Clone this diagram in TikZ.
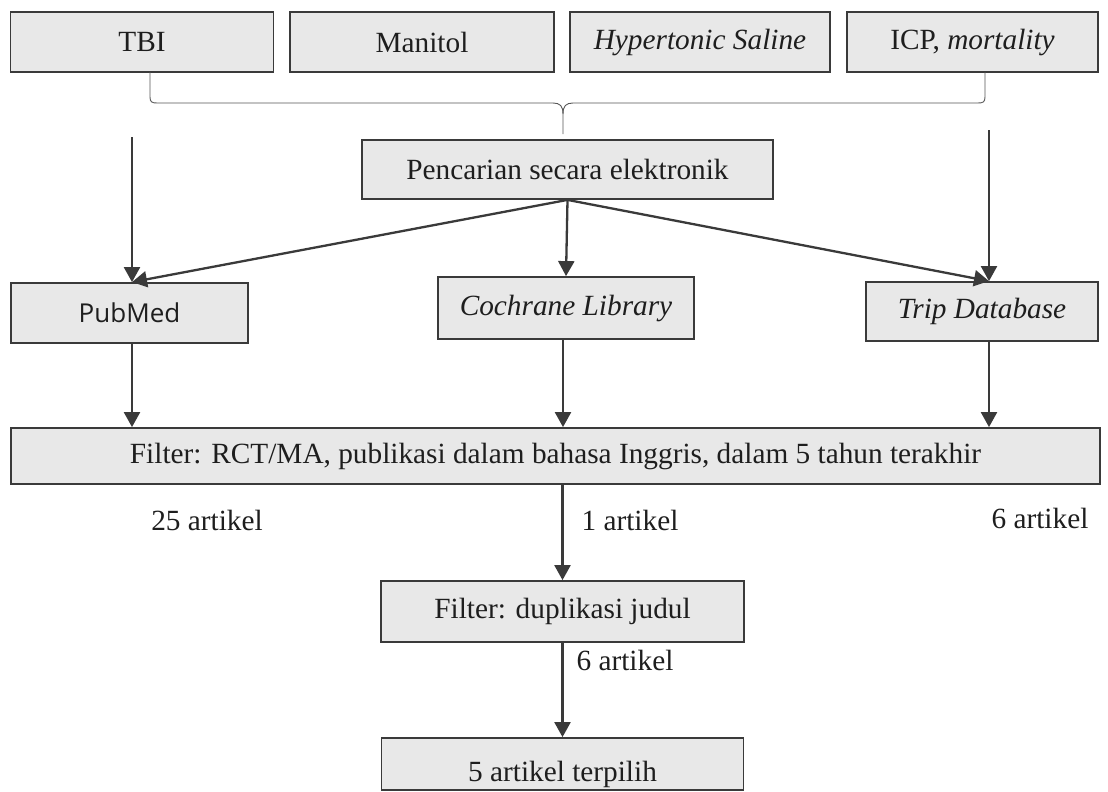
\documentclass[tikz,border=0pt]{standalone}
\usepackage{fontspec}
\setmainfont{Liberation Serif}
\newfontfamily\pubfont{Open Sans}
\usetikzlibrary{arrows.meta}
\definecolor{boxfill}{HTML}{E8E8E8}
\definecolor{boxline}{HTML}{3A3A3A}
\definecolor{txt}{HTML}{1E1E1E}
\definecolor{bracecol}{HTML}{555555}
\begin{document}
\begin{tikzpicture}[x=1pt,y=-1pt,
  box/.style={draw=boxline, fill=boxfill, line width=1.8pt, inner sep=0pt, text=txt, font=\fontsize{29.3}{34}\selectfont},
  arr/.style={draw=boxline, line width=2.3pt, -{Triangle[length=15pt,width=16pt]}},
  bracepath/.style={draw=bracecol, line width=0.9pt},
  lbl/.style={text=txt, font=\fontsize{29.3}{34}\selectfont, inner sep=0pt}]
\useasboundingbox (0,0) rectangle (1108,792);
% top row
\node[box, minimum width=263pt, minimum height=60pt] (tbi) at (142,42) {TBI};
\node[box, minimum width=264pt, minimum height=60pt] (man) at (422,42) {Manitol};
\node[box, minimum width=260pt, minimum height=60pt] (hs) at (700,42) {\textit{Hypertonic Saline}};
\node[box, minimum width=251pt, minimum height=60pt] (icp) at (972.5,42) {ICP, \textit{mortality}};
% search
\node[box, minimum width=411pt, minimum height=59pt] (pen) at (567.5,169.5) {Pencarian secara elektronik};
% databases
\node[box, minimum width=237pt, minimum height=60pt, font=\pubfont\fontsize{26}{30}\selectfont] (pub) at (129.5,313) {PubMed};
\node[box, minimum width=256pt, minimum height=62pt] (coch) at (566,308) {\textit{Cochrane Library}};
\node[box, minimum width=232pt, minimum height=59pt] (trip) at (982,311.5) {\textit{Trip Database}};
% filters
\node[box, minimum width=1089pt, minimum height=56pt] (filt) at (555.5,456) {Filter: RCT/MA, publikasi dalam bahasa Inggris, dalam 5 tahun terakhir};
\node[box, minimum width=363pt, minimum height=61pt] (dup) at (562.5,611.5) {Filter: duplikasi judul};
\node[box, minimum width=362pt, minimum height=52pt, text height=34pt, text depth=0pt] (fin) at (562.5,764) {5 artikel terpilih};
% labels
\node[lbl] (l25) at (207,520) {25 artikel};
\node[lbl] (l1) at (630,520) {1 artikel};
\node[lbl] (l6a) at (1040,518) {6 artikel};
\node[lbl] (l6b) at (625,660) {6 artikel};
% brace
\draw[bracepath] (150,72) -- (150,97) .. controls (150,102) and (152,103) .. (157,103) -- (553,103) .. controls (560,103) and (563,106) .. (563,114) -- (563,134);
\draw[bracepath] (985,72) -- (985,97) .. controls (985,102) and (983,103) .. (978,103) -- (573,103) .. controls (566,103) and (563,106) .. (563,114);
% connectors
\coordinate (vl) at (132,137);
\coordinate (vr) at (989,130);
\coordinate (cx) at (563,0);
\draw[arr] (vl) -- (vl |- pub.north);
\draw[arr] (vr) -- (vr |- trip.north);
\draw[arr] (pen.south) -- (vl |- pub.north);
\draw[arr] (pen.south) -- (coch.north);
\draw[arr] (pen.south) -- (vr |- trip.north);
\draw[arr] (vl |- pub.south) -- (vl |- filt.north);
\draw[arr] (cx |- coch.south) -- (cx |- filt.north);
\draw[arr] (vr |- trip.south) -- (vr |- filt.north);
\draw[arr] (dup.north |- filt.south) -- (dup.north);
\draw[arr] (dup.south) -- (fin.north);
\end{tikzpicture}
\end{document}
